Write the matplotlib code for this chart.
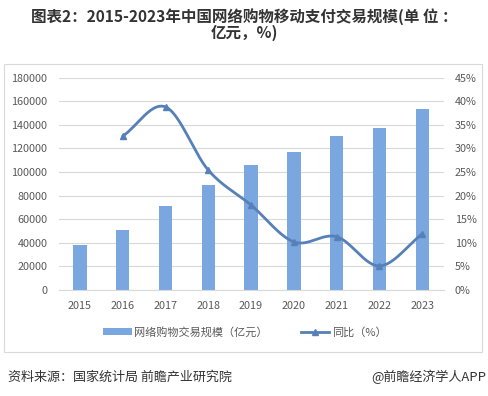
import numpy as np
import matplotlib
matplotlib.use("Agg")
import matplotlib.pyplot as plt
from matplotlib.patches import Rectangle
from matplotlib.lines import Line2D
from matplotlib.patches import Patch

plt.rcParams['font.family'] = ['Noto Sans CJK SC', 'DejaVu Sans']

years = ['2015', '2016', '2017', '2018', '2019', '2020', '2021', '2022', '2023']
scale = [38200, 50900, 71300, 89100, 106100, 117400, 130700, 137500, 153700]
growth_years = ['2016', '2017', '2018', '2019', '2020', '2021', '2022', '2023']
growth = [32.6, 38.8, 25.4, 18.0, 10.2, 11.3, 5.1, 11.9]
left_ticks = [0, 20000, 40000, 60000, 80000, 100000, 120000, 140000, 160000, 180000]
right_ticks = [0, 5, 10, 15, 20, 25, 30, 35, 40, 45]

bar_color = '#7BA7E1'
line_color = '#5580B8'
text_gray = '#595959'

fig = plt.figure(figsize=(4.89, 3.96), dpi=100)
W, H = 489, 396

# chart border
fig.patches.append(Rectangle((4 / W, 1 - 352 / H), 478 / W, (352 - 64) / H,
                             transform=fig.transFigure, fill=False,
                             edgecolor='#D9D9D9', linewidth=0.8))

ax = fig.add_axes([58.6 / W, 1 - 290 / H, (443.6 - 58.6) / W, (290 - 77.7) / H])
x = np.arange(len(years))
ax.bar(x, scale, width=0.31, color=bar_color, zorder=2)
ax.set_ylim(0, 180000)
ax.set_xlim(-0.5, len(years) - 0.5)
ax.set_yticks(left_ticks)
ax.set_yticklabels([str(v) for v in left_ticks])
ax.set_xticks(x)
ax.set_xticklabels(years)
ax.grid(axis='y', color='#D9D9D9', linewidth=0.8, zorder=0)
for s in ax.spines.values():
    s.set_visible(False)
ax.spines['bottom'].set_visible(True)
ax.spines['bottom'].set_color('#D9D9D9')
ax.tick_params(axis='both', length=0, labelsize=7.8, colors=text_gray)
ax.tick_params(axis='y', pad=8)
ax.tick_params(axis='x', pad=8)

ax2 = ax.twinx()
ax2.set_ylim(0, 45)
ax2.set_yticks(right_ticks)
ax2.set_yticklabels([f'{v}%' for v in right_ticks])
for s in ax2.spines.values():
    s.set_visible(False)
ax2.tick_params(axis='y', length=0, labelsize=7.8, colors=text_gray, pad=8)

# smoothed line (Catmull-Rom through the data points)
gx = np.array([years.index(y) for y in growth_years], dtype=float)
gy = np.array(growth, dtype=float)
px = np.concatenate([[2 * gx[0] - gx[1]], gx, [2 * gx[-1] - gx[-2]]])
py = np.concatenate([[2 * gy[0] - gy[1]], gy, [2 * gy[-1] - gy[-2]]])
sx, sy = [], []
t = np.linspace(0, 1, 30)
for i in range(1, len(px) - 2):
    p0, p1, p2, p3 = [np.array([px[j], py[j]]) for j in range(i - 1, i + 3)]
    for tt in t:
        pt = 0.5 * ((2 * p1) + (-p0 + p2) * tt + (2 * p0 - 5 * p1 + 4 * p2 - p3) * tt ** 2
                    + (-p0 + 3 * p1 - 3 * p2 + p3) * tt ** 3)
        sx.append(pt[0]); sy.append(pt[1])
ax2.plot(sx, sy, color=line_color, linewidth=2.0, zorder=3, solid_capstyle='round')
ax2.plot(gx, gy, linestyle='none', marker='^', markersize=5, color=line_color, zorder=4)

# legend
handles = [Patch(facecolor=bar_color, edgecolor='none'),
           Line2D([0], [0], color=line_color, linewidth=2, marker='^', markersize=5)]
fig.legend(handles, ['网络购物交易规模（亿元）', '同比（%）'],
           loc='center', bbox_to_anchor=(0.5, 1 - 332 / H), ncol=2, frameon=False,
           fontsize=8, labelcolor=text_gray, handlelength=2.6, handleheight=0.5,
           columnspacing=3.0, handletextpad=0.2)

# title
fig.text(0.5, 1 - 17 / H, '图表2：2015-2023年中国网络购物移动支付交易规模(单 位 ：',
         ha='center', va='center', fontsize=11.2, fontweight='bold', color='#333333')
fig.text(0.5, 1 - 33 / H, '亿元，%)', ha='center', va='center', fontsize=11.2,
         fontweight='bold', color='#333333')

# footer
fig.text(8 / W, 1 - 377 / H, '资料来源：国家统计局 前瞻产业研究院', ha='left', va='center',
         fontsize=9.4, color='#333333')
fig.text(486 / W, 1 - 377 / H, '@前瞻经济学人APP', ha='right', va='center',
         fontsize=9.4, color='#333333')

fig.savefig('out.png', dpi=100)
